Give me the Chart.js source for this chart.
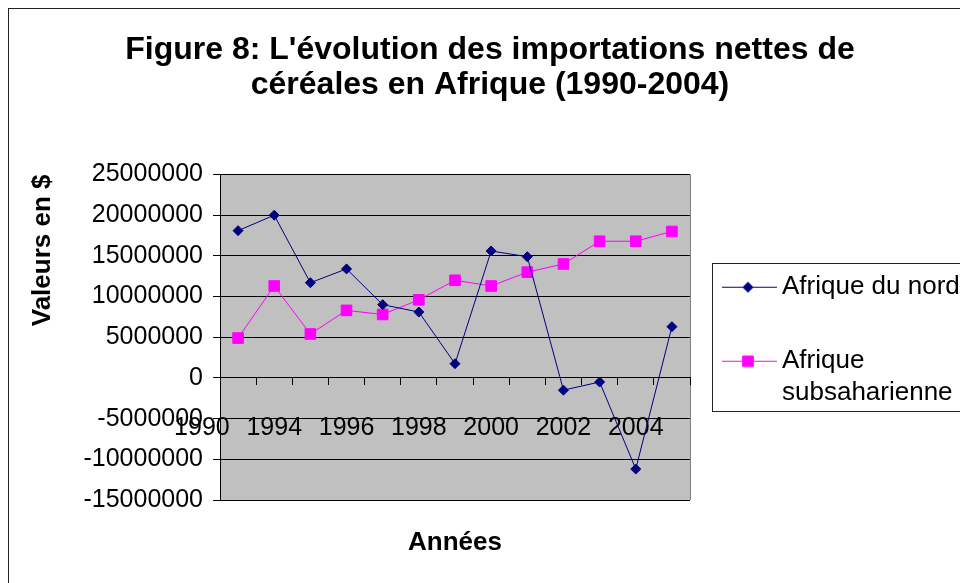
<!DOCTYPE html>
<html>
<head>
<meta charset="utf-8">
<script src="https://cdn.jsdelivr.net/npm/chart.js@4/dist/chart.umd.min.js"></script>
<style>
html, body { margin: 0; padding: 0; background: #ffffff; overflow: hidden; }
#frame { position: absolute; left: 8px; top: 8px; width: 1200px; height: 900px; border-left: 1px solid #222; border-top: 1px solid #222; box-sizing: border-box; }
#c { position: absolute; left: 0; top: 0; }
</style>
</head>
<body>
<div id="frame"></div>
<canvas id="c" width="960" height="583"></canvas>
<script>
// ---- data ----
const categories = [1, 2, 3, 4, 5, 6, 7, 8, 9, 10, 11, 12, 13];
const afriqueNord = [18100000, 20000000, 11700000, 13400000, 9000000, 8100000, 1750000, 15600000, 14900000, -1500000, -500000, -11200000, 6300000];
const afriqueSub = [4900000, 11300000, 5400000, 8300000, 7800000, 9600000, 12000000, 11300000, 13000000, 14000000, 16800000, 16800000, 18000000];
const seriesNames = ['Afrique du nord', 'Afrique subsaharienne'];
const xTickLabels = ['1990', '1994', '1996', '1998', '2000', '2002', '2004'];
const xTickSlots = [0, 2, 4, 6, 8, 10, 12];
const yMin = -15000000, yMax = 25000000, yStep = 5000000;
const chartTitle = ["Figure 8: L'évolution des importations nettes de", 'céréales en Afrique (1990-2004)'];
const yTitle = 'Valeurs en $';
const xTitle = 'Années';

// ---- styles ----
const FONT = "'Liberation Sans', Arial, sans-serif";
Chart.defaults.font.family = FONT;
Chart.defaults.color = '#000';
const colors = ['#000080', '#FF00FF'];
const pointStyles = ['rectRot', 'rect'];
const pointRadii = [5, 7.5];
const legendFontSize = 26;
const legendTextMax = 178;
const plotLeft = 220, plotRight = 690;
const W = 960;

function wrapText(text, size, maxW) {
  const m = document.createElement('canvas').getContext('2d');
  m.font = size + 'px ' + FONT;
  if (m.measureText(text).width <= maxW) return [text];
  const words = text.split(' ');
  const lines = [];
  let cur = '';
  words.forEach(w => {
    const t = cur ? cur + ' ' + w : w;
    if (cur && m.measureText(t).width > maxW) { lines.push(cur); cur = w; } else { cur = t; }
  });
  if (cur) lines.push(cur);
  return lines;
}

function makeSample(color, style, radius) {
  const cv = document.createElement('canvas');
  cv.width = 57; cv.height = 16;
  const g = cv.getContext('2d');
  g.strokeStyle = color; g.fillStyle = color; g.lineWidth = 1;
  g.beginPath(); g.moveTo(0, 8.5); g.lineTo(55, 8.5); g.stroke();
  Chart.helpers.drawPoint(g, {pointStyle: style, radius: radius, rotation: 0, borderWidth: 1}, 26, 8.5);
  return cv;
}
const samples = colors.map((c, i) => makeSample(c, pointStyles[i], pointRadii[i]));
const legendLines = seriesNames.map(n => wrapText(n, legendFontSize, legendTextMax));

const plotBg = {
  id: 'plotBg',
  beforeDraw(chart) {
    const {ctx, chartArea: a} = chart;
    ctx.save();
    ctx.fillStyle = '#C0C0C0';
    ctx.fillRect(a.left, a.top, a.right - a.left, a.bottom - a.top);
    ctx.strokeStyle = '#808080';
    ctx.lineWidth = 1;
    const xr = Math.floor(a.right) + 0.5;
    ctx.beginPath(); ctx.moveTo(xr, a.top); ctx.lineTo(xr, a.bottom); ctx.stroke();
    ctx.restore();
  }
};

const legendFrame = {
  id: 'legendFrame',
  beforeLayout(chart) {
    const lg = chart.legend;
    if (lg && !lg.__fixed) {
      const fit = lg.fit;
      lg.fit = function () { fit.call(this); this.width = W - plotRight; };
      lg.__fixed = true;
    }
  },
  afterDraw(chart) {
    const hb = chart.legend && chart.legend.legendHitBoxes;
    if (!hb || !hb.length) return;
    const first = hb[0], last = hb[hb.length - 1];
    const x = Math.round(first.left - 20) + 0.5;
    const y = Math.round(first.top - 11) + 0.5;
    const b = Math.round(last.top + last.height - 1) + 0.5;
    const ctx = chart.ctx;
    ctx.save();
    ctx.strokeStyle = '#222';
    ctx.lineWidth = 1;
    ctx.strokeRect(x, y, chart.width + 20 - x, b - y);
    ctx.restore();
  }
};

const boundaries = [];
for (let i = 0; i <= categories.length; i++) boundaries.push(categories[0] - 0.5 + i);

new Chart(document.getElementById('c').getContext('2d'), {
  type: 'line',
  data: {
    datasets: [
      {
        label: seriesNames[0],
        data: categories.map((c, i) => ({x: c, y: afriqueNord[i]})),
        borderColor: colors[0], backgroundColor: colors[0], borderWidth: 1,
        pointStyle: pointStyles[0], pointRadius: pointRadii[0], pointHoverRadius: pointRadii[0],
        pointBorderWidth: 1, tension: 0, xAxisID: 'x', yAxisID: 'y'
      },
      {
        label: seriesNames[1],
        data: categories.map((c, i) => ({x: c, y: afriqueSub[i]})),
        borderColor: colors[1], backgroundColor: colors[1], borderWidth: 1,
        pointStyle: pointStyles[1], pointRadius: pointRadii[1], pointHoverRadius: pointRadii[1],
        pointBorderWidth: 1, tension: 0, xAxisID: 'x', yAxisID: 'y'
      }
    ]
  },
  options: {
    responsive: false,
    animation: false,
    devicePixelRatio: 1,
    events: [],
    layout: { padding: { left: 20, right: 0, top: 0, bottom: 0 } },
    plugins: {
      tooltip: { enabled: false },
      title: {
        display: true,
        text: chartTitle,
        color: '#000',
        font: { size: 32, weight: 'bold', lineHeight: '35.5px' },
        padding: { top: 32.2, bottom: 71.3 }
      },
      legend: {
        position: 'right',
        align: 'start',
        fullSize: false,
        title: { display: true, text: '', font: { size: 12, lineHeight: 1 }, padding: { top: 45.2, bottom: 0 } },
        labels: {
          usePointStyle: true,
          pointStyleWidth: 37,
          padding: 42,
          color: '#000',
          font: { size: legendFontSize, lineHeight: '32px' },
          generateLabels(chart) {
            return chart.data.datasets.map((ds, i) => ({
              text: legendLines[i],
              fillStyle: ds.borderColor,
              strokeStyle: ds.borderColor,
              lineWidth: 0,
              pointStyle: samples[i],
              hidden: false,
              datasetIndex: i,
              fontColor: '#000'
            }));
          }
        }
      }
    },
    scales: {
      x: {
        type: 'linear',
        position: { y: 0 },
        min: boundaries[0],
        max: boundaries[boundaries.length - 1],
        afterBuildTicks(s) { s.ticks = boundaries.map(v => ({ value: v })); },
        ticks: { display: false },
        grid: { drawOnChartArea: false, drawTicks: true, tickLength: 7, color: '#000', lineWidth: 1 },
        border: { display: true, color: '#000', width: 1 }
      },
      xl: {
        type: 'linear',
        position: { y: 0 },
        min: boundaries[0],
        max: boundaries[boundaries.length - 1],
        afterBuildTicks(s) { s.ticks = xTickSlots.map(v => ({ value: v })); },
        ticks: {
          autoSkip: false, maxRotation: 0, minRotation: 0, padding: 35,
          font: { size: 25 }, color: '#000',
          callback: (v) => xTickLabels[xTickSlots.indexOf(v)]
        },
        grid: { display: false, drawTicks: false },
        border: { display: false }
      },
      xt: {
        type: 'linear',
        position: 'bottom',
        min: 0, max: 1,
        ticks: { display: false },
        grid: { display: false, drawTicks: false },
        border: { display: false },
        title: {
          display: true, text: xTitle, color: '#000',
          font: { size: 26, weight: 'bold', lineHeight: 1.2 },
          padding: { top: 26.8, bottom: 25 }
        }
      },
      y: {
        type: 'linear',
        position: 'left',
        min: yMin, max: yMax,
        ticks: { stepSize: yStep, padding: 10, font: { size: 25 }, color: '#000', callback: (v) => String(v) },
        grid: { color: '#000', lineWidth: 1, tickLength: 7, drawTicks: true },
        border: { color: '#000', width: 1 },
        title: {
          display: true, text: yTitle, align: 'end', color: '#000',
          font: { size: 26, weight: 'bold', lineHeight: 1.2 },
          padding: { top: 7.4, bottom: 0 }
        },
        afterFit(s) { s.width = plotLeft - 20; }
      }
    }
  },
  plugins: [plotBg, legendFrame]
});
</script>
</body>
</html>
